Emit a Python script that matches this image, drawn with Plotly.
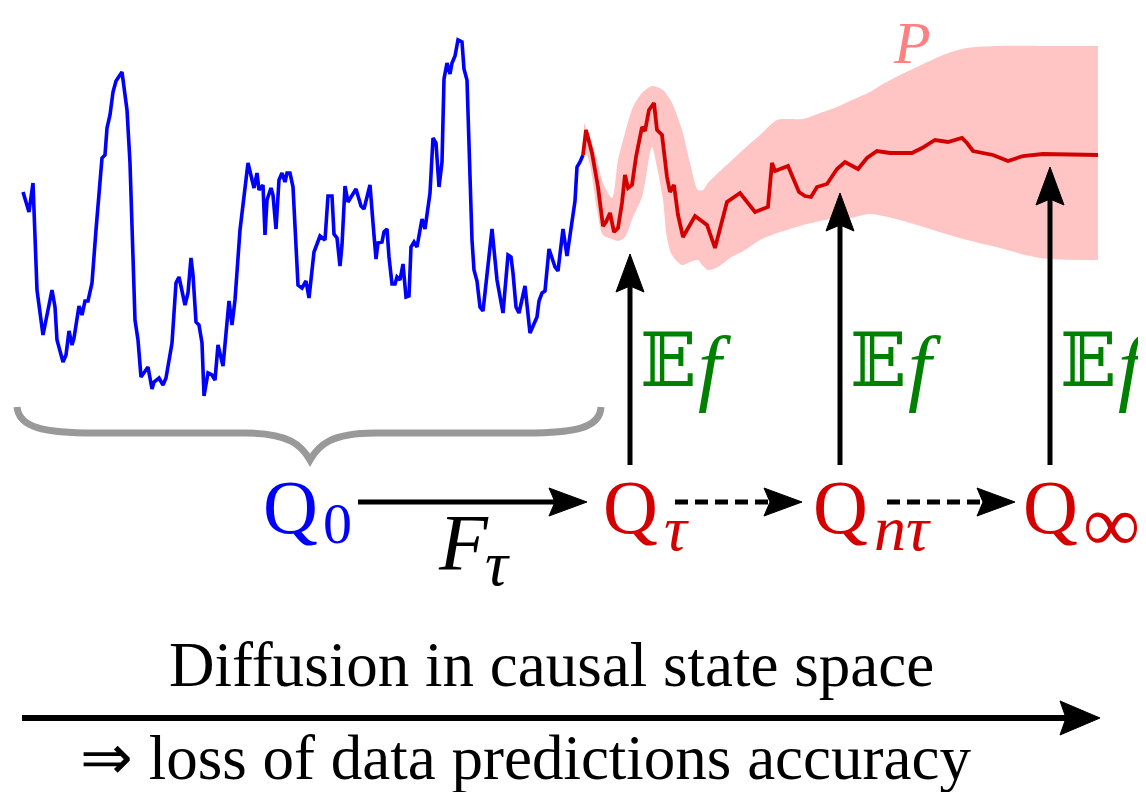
import plotly.graph_objects as go

# ---------------- data (pixel-space units) ----------------
blue_t = [23, 29, 33, 37, 43, 47, 52, 55, 57, 63,
          66, 69, 72, 74, 79, 82, 85, 88, 92, 96,
          102, 105, 107, 110, 113, 116, 122, 127, 130, 135,
          138, 141, 144, 148, 152, 154, 159, 163, 166, 172,
          176, 179, 185, 188, 191, 193, 196, 199, 202, 204,
          208, 212, 215, 218, 223, 229, 232, 235, 240, 243,
          248, 254, 257, 259, 263, 265, 267, 271, 273, 276,
          279, 282, 285, 287, 290, 293, 298, 302, 306, 309,
          314, 320, 325, 328, 332, 334, 337, 340, 342, 345,
          348, 356, 361, 364, 370, 373, 376, 378, 382, 384,
          387, 389, 392, 395, 397, 400, 403, 406, 409, 411,
          414, 417, 422, 425, 430, 433, 436, 439, 442, 444,
          447, 450, 452, 455, 458, 462, 464, 467, 469, 472,
          474, 477, 480, 483, 492, 494, 497, 503, 508, 511,
          513, 516, 519, 525, 530, 537, 539, 542, 545, 549,
          555, 558, 563, 567, 571, 573, 575, 577, 580, 583]
blue_v = [192, 212, 183, 290, 335, 313, 290, 307, 340, 362,
          355, 331, 345, 338, 306, 315, 301, 301, 283, 230,
          158, 155, 128, 115, 92, 81, 72, 110, 163, 320,
          340, 377, 373, 367, 389, 382, 378, 385, 378, 343,
          283, 277, 305, 293, 258, 275, 322, 325, 343, 396,
          373, 375, 380, 345, 366, 301, 325, 300, 230, 207,
          163, 188, 173, 190, 185, 235, 200, 188, 195, 229,
          180, 173, 182, 173, 173, 187, 285, 288, 281, 298,
          252, 236, 240, 196, 196, 234, 238, 266, 245, 186,
          202, 189, 206, 209, 185, 223, 259, 243, 242, 232,
          229, 257, 284, 284, 277, 280, 264, 297, 296, 247,
          242, 247, 219, 229, 193, 138, 143, 187, 162, 79,
          63, 74, 63, 56, 40, 42, 69, 80, 140, 240,
          270, 281, 307, 311, 229, 250, 280, 313, 255, 257,
          273, 307, 313, 286, 333, 317, 301, 293, 291, 249,
          267, 271, 229, 256, 229, 210, 201, 167, 162, 155]

red_t = [583, 586, 592, 598, 603, 606, 610, 614, 618, 622,
         625, 628, 632, 636, 642, 645, 649, 654, 657, 662,
         667, 670, 674, 678, 683, 695, 707, 715, 727, 740,
         755, 768, 772, 775, 788, 799, 805, 811, 817, 827,
         837, 845, 858, 867, 877, 890, 912, 922, 935, 948,
         962, 967, 973, 993, 1008, 1023, 1043, 1098]
red_v = [155, 130, 153, 187, 226, 222, 213, 232, 228, 203,
         175, 188, 185, 157, 127, 131, 110, 103, 130, 135,
         177, 192, 185, 215, 237, 216, 225, 248, 202, 193,
         212, 207, 163, 171, 166, 192, 196, 197, 187, 184,
         169, 162, 169, 158, 151, 153, 153, 148, 140, 142,
         138, 143, 151, 155, 161, 156, 154, 155]

band_t = [584, 590, 597, 603, 612, 618, 625, 633, 642, 652,
          657, 663, 667, 672, 682, 690, 698, 703, 708, 718,
          730, 745, 760, 777, 790, 803, 820, 837, 850, 870,
          883, 900, 917, 943, 967, 1000, 1040, 1098]
band_hi = [123, 137, 160, 183, 198, 160, 133, 107, 93, 86,
           87, 90, 95, 103, 130, 163, 190, 190, 183, 173,
           162, 148, 135, 120, 119, 119, 113, 107, 101, 92,
           84, 75, 67, 55, 48, 46, 46, 46]
band_lo = [146, 165, 210, 235, 239, 241, 237, 217, 197, 147,
           167, 200, 238, 255, 265, 262, 260, 266, 270, 267,
           258, 250, 240, 233, 229, 225, 221, 218, 218, 214,
           216, 220, 225, 233, 240, 248, 258, 260]

bottom_title = "Diffusion in causal state space"
bottom_subtitle = "\u21D2 loss of data predictions accuracy"

# ---------------- styles ----------------
BLUE = "#0000ff"
RED = "#d40000"
PINK = "#ffc4c4"
GREEN = "#008000"
GRAY = "#999999"
SERIF = "Liberation Serif"
W, H = 1146, 792
OFF = 8  # default page margin of the html body

fig = go.Figure()

# band P
fig.add_trace(go.Scatter(x=band_t, y=band_lo, mode="lines",
                         line=dict(color=PINK, width=0, shape="spline", smoothing=0.8),
                         hoverinfo="skip", showlegend=False))
fig.add_trace(go.Scatter(x=band_t, y=band_hi, mode="lines", fill="tonexty",
                         fillcolor=PINK,
                         line=dict(color=PINK, width=0, shape="spline", smoothing=0.8),
                         hoverinfo="skip", showlegend=False))
# observed series
fig.add_trace(go.Scatter(x=blue_t, y=blue_v, mode="lines",
                         line=dict(color=BLUE, width=3.6),
                         hoverinfo="skip", showlegend=False))
# predicted mean
fig.add_trace(go.Scatter(x=red_t, y=red_v, mode="lines",
                         line=dict(color=RED, width=3.8),
                         hoverinfo="skip", showlegend=False))

shapes = []


def head(tx, ty, dx, dy, length, half, notch=6):
    bx, by = tx - dx * length, ty - dy * length
    px, py = -dy, dx
    nx, ny = tx - dx * (length - notch), ty - dy * (length - notch)
    path = (f"M {tx},{ty} L {bx + px * half},{by + py * half} "
            f"L {nx},{ny} L {bx - px * half},{by - py * half} Z")
    return dict(type="path", path=path, xref="x", yref="y",
                fillcolor="black", line=dict(color="black", width=1), layer="above")


def arrow(x0, y0, x1, y1, width=5, dash="solid", length=38, half=14):
    L = ((x1 - x0) ** 2 + (y1 - y0) ** 2) ** 0.5
    dx, dy = (x1 - x0) / L, (y1 - y0) / L
    ex, ey = x1 - dx * (length - 8), y1 - dy * (length - 8)
    shapes.append(dict(type="line", x0=x0, y0=y0, x1=ex, y1=ey, xref="x", yref="y",
                       line=dict(color="black", width=width, dash=dash), layer="above"))
    shapes.append(head(x1, y1, dx, dy, length, half))


# vertical "E f" arrows
arrow(630, 465, 630, 254)
arrow(840, 465, 840, 193)
arrow(1050, 465, 1050, 167)
# horizontal transitions
arrow(358, 502, 587, 502)
arrow(675, 502, 802, 502, dash="13px,7px")
arrow(887, 502, 1015, 502, dash="13px,7px")
# bottom long arrow
arrow(22, 718, 1100, 718, width=6, length=40, half=17)

# brace under the observed series
shapes.append(dict(type="path", xref="x", yref="y", layer="above",
                   path="M 17,407 C 19,428 45,433 95,433 L 245,433 "
                        "C 290,433 302,446 310,460 C 318,446 330,433 375,433 "
                        "L 525,433 C 575,433 600,428 601,407",
                   line=dict(color=GRAY, width=7)))

ann = []


def txt(x, y, s, size, color, xanchor="left", yanchor="middle", family=SERIF):
    ann.append(dict(x=x, y=y, xref="x", yref="y", text=s, showarrow=False,
                    xanchor=xanchor, yanchor=yanchor,
                    font=dict(family=family, size=size, color=color)))


# Q labels
txt(261, 507, "Q", 76, BLUE)
txt(321, 523, "0", 58, BLUE)
txt(601, 507, "Q", 76, RED)
txt(662, 528, "<i>\u03C4</i>", 64, RED)
txt(811, 507, "Q", 76, RED)
txt(872, 528, "<i>n\u03C4</i>", 64, RED)
txt(1021, 507, "Q", 76, RED)
txt(1081, 524, "\u221E", 80, RED)
# F_tau
txt(436, 543, "<i>F</i>", 80, "black")
txt(483, 563, "<i>\u03C4</i>", 64, "black")
# E f labels
for xl in [638, 848, 1058]:
    txt(xl, 360, "\U0001D53C", 74, GREEN, family="DejaVu Serif")
    txt(xl + 58, 366, "<i>f</i>", 84, GREEN)
# P label
txt(891, 43, "<i>P</i>", 60, "#ff8080")
# bottom text
txt(551, 665, bottom_title, 63, "black", xanchor="center")
txt(525, 758, bottom_subtitle, 63, "black", xanchor="center")

fig.update_layout(
    width=W - OFF, height=H - OFF, margin=dict(l=0, r=0, t=0, b=0),
    paper_bgcolor="white", plot_bgcolor="white",
    xaxis=dict(range=[OFF, W], visible=False, fixedrange=True),
    yaxis=dict(range=[H, OFF], visible=False, fixedrange=True),
    shapes=shapes, annotations=ann, showlegend=False,
)

fig.write_html("out.html")
